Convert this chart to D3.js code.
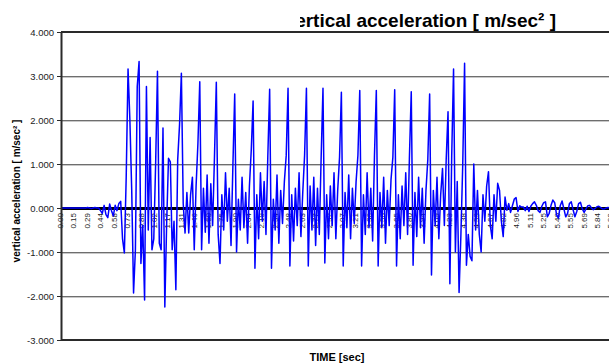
<!DOCTYPE html>
<html><head><meta charset="utf-8">
<script src="https://cdn.jsdelivr.net/npm/d3@7"></script>
<style>html,body{margin:0;padding:0;background:#fff;} svg{display:block;font-family:"Liberation Sans",Arial,sans-serif;}</style>
</head><body><svg id="c" width="609" height="364"></svg>
<script>
const chartTitle = "vertical acceleration [ m/sec² ]";
const xTitle = "TIME [sec]";
const yTitle = "vertical acceleration [ m/sec² ]";
const timeLabels = ["0.00","0.15","0.29","0.44","0.58","0.73","0.88","1.02","1.17","1.31","1.46","1.60","1.75","1.90","2.04","2.19","2.34","2.48","2.63","2.77","2.92","3.07","3.21","3.36","3.50","3.65","3.80","3.94","4.09","4.23","4.38","4.53","4.67","4.82","4.96","5.11","5.25","5.40","5.55","5.69","5.84","5.99"];
const labelStep = 0.146;
const yTicks = [-3000,-2000,-1000,0,1000,2000,3000,4000];
const sampleStep = 0.02;
const accel = [
0,0,0,0,0,0,0,0,0,0,
0,0,0,0,0,10,0,-10,0,10,
0,0,-60,-120,60,-150,-220,90,-60,-180,
60,-60,100,150,-700,-1020,700,3160,2000,400,
-1930,-950,2760,3330,-1260,-400,-2090,2760,-500,1600,
-950,-700,1000,3110,-800,-950,1820,-2250,-350,1130,
1050,-950,-300,-1860,1100,1890,3060,100,-570,350,
-570,300,700,-950,500,1470,2870,-950,450,-550,
750,-800,550,-400,1170,2860,-600,-1260,300,-500,
800,-300,450,-850,940,2590,-1000,200,-500,700,
-450,350,-800,500,1320,2430,-1370,300,-700,800,
-300,600,-600,1170,2700,-1370,200,-500,750,-800,
400,-350,600,1190,2720,-1320,300,-750,450,-400,
800,-650,350,1200,2720,-1320,500,-500,700,-850,
450,-600,1150,2720,-1250,300,-700,500,-400,800,
-700,400,1150,2630,-1320,350,-450,750,-700,450,
-350,600,1200,2670,-1320,300,-600,800,-450,450,
-750,1200,2670,-1320,350,-450,700,-800,400,-400,
650,1150,2690,-1320,300,-700,500,-400,800,-600,
1150,2640,-1300,350,-650,700,-450,450,-800,400,
1100,2590,-1520,400,-400,700,-700,300,900,-400,
1100,2190,-1720,1200,3160,-1000,600,-1920,-600,1000,
3290,-1300,-600,-1100,-1200,1000,-500,400,-600,-1000,
300,-300,500,825,-400,-700,300,-300,560,400,
-300,-650,250,-50,100,-100,50,200,235,-80,
50,20,20,-60,40,-80,40,100,140,60,
-60,-100,40,120,140,-200,-120,60,180,120,
-150,-230,50,160,-20,-200,-120,100,140,-40,
-200,-80,100,130,-20,-100,-20,50,60,0,
-40,-10,30,40,10,-20,-20,0,10,0,
0
];
const series = accel.map((v, i) => ({t: i * sampleStep, v}));

const svg = d3.select("#c");
const W = 609, H = 364;
const pL = 61, pT = 32, pB = 340, pR = 614;

svg.append("rect").attr("width", W).attr("height", H).attr("fill", "#fff");

const x = d3.scaleLinear().domain([0, 5.84]).range([60, 597]);
const y = d3.scaleLinear().domain([-3000, 4000]).range([pB, pT]);

const gridVals = yTicks.filter(d => d !== 0 && d !== -3000 && d !== 4000);
svg.append("g").selectAll("line").data(gridVals).join("line")
  .attr("x1", pL).attr("x2", pR)
  .attr("y1", d => Math.round(y(d)) + 0.5).attr("y2", d => Math.round(y(d)) + 0.5)
  .attr("stroke", "#6e6e6e").attr("stroke-width", 1);
svg.append("g").selectAll("line").data(gridVals).join("line")
  .attr("x1", pL).attr("x2", pR)
  .attr("y1", d => Math.round(y(d)) + 1.5).attr("y2", d => Math.round(y(d)) + 1.5)
  .attr("stroke", "#c8c8c8").attr("stroke-width", 1);

svg.append("line").attr("x1", pL).attr("x2", pR)
  .attr("y1", y(0) + 0.5).attr("y2", y(0) + 0.5)
  .attr("stroke", "#000").attr("stroke-width", 3);

const xl = svg.append("g").attr("font-size", 8).attr("fill", "#222");
xl.selectAll("text").data(timeLabels).join("text")
  .attr("transform", (d, i) => `translate(${x(i * labelStep) + 3},${y(0) + 5}) rotate(-90)`)
  .attr("text-anchor", "end")
  .text(d => d);

svg.append("clipPath").attr("id", "pc").append("rect")
  .attr("x", pL).attr("y", pT).attr("width", pR - pL).attr("height", pB - pT);
const line = d3.line().x(d => x(d.t)).y(d => y(d.v));
svg.append("path").datum(series)
  .attr("clip-path", "url(#pc)")
  .attr("d", line)
  .attr("fill", "none").attr("stroke", "#0000ff").attr("stroke-width", 1.5)
  .attr("stroke-linejoin", "round");

svg.append("line").attr("x1", pL).attr("x2", pR).attr("y1", pT).attr("y2", pT)
  .attr("stroke", "#2a2a2a").attr("stroke-width", 2);
svg.append("line").attr("x1", pL).attr("x2", pR).attr("y1", pB).attr("y2", pB)
  .attr("stroke", "#2a2a2a").attr("stroke-width", 2);

const yAxis = d3.axisLeft(y).tickValues(yTicks).tickSize(4).tickSizeOuter(0)
  .tickFormat(d => (d / 1000).toFixed(3));
const ga = svg.append("g").attr("transform", `translate(${pL},0)`).call(yAxis);
ga.select(".domain").attr("stroke", "#2a2a2a").attr("stroke-width", 2);
ga.selectAll(".tick line").attr("stroke", "#2a2a2a");
ga.selectAll("text").attr("font-size", 9.5).attr("fill", "#222")
  .attr("font-family", "'Liberation Sans',Arial,sans-serif");

svg.append("clipPath").attr("id", "tc").append("rect")
  .attr("x", 300).attr("y", 0).attr("width", 320).attr("height", 31);
svg.append("text").attr("clip-path", "url(#tc)")
  .attr("x", 556).attr("y", 27).attr("text-anchor", "end")
  .attr("font-size", 19).attr("font-weight", "bold").attr("fill", "#000")
  .text(chartTitle);
svg.append("text").attr("x", 337).attr("y", 361).attr("text-anchor", "middle")
  .attr("font-size", 11).attr("font-weight", "bold").attr("fill", "#000")
  .text(xTitle);
svg.append("text").attr("transform", "translate(20,191) rotate(-90)").attr("text-anchor", "middle")
  .attr("font-size", 10).attr("font-weight", "bold").attr("fill", "#000")
  .text(yTitle);
</script></body></html>
